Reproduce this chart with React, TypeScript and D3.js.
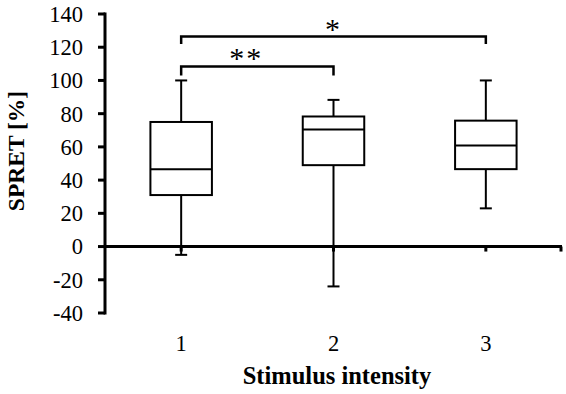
import React from "react";
import * as d3 from "d3";

const categories = ["1", "2", "3"];
const whiskerLow = [-5, -24, 23];
const q1 = [31, 49, 46.6];
const median = [46.6, 70.5, 60.8];
const q3 = [75, 78.3, 75.8];
const whiskerHigh = [100, 88.3, 100];
const yTicks = [-40, -20, 0, 20, 40, 60, 80, 100, 120, 140];
const brackets = [
  { from: "1", to: "2", level: 108.4, drop: 103, label: "**", shift: -11 },
  { from: "1", to: "3", level: 126.4, drop: 122, label: "*", shift: 0 },
];

const W = 566, H = 394;
const font = "'Liberation Serif', 'Times New Roman', serif";

export default function App() {
  const x = d3.scaleBand<string>().domain(categories).range([105, 562]);
  const y = d3.scaleLinear().domain([-40, 140]).range([313, 14]);
  const bw = 61.5;
  const cx = (c: string) => (x(c) as number) + x.bandwidth() / 2;

  return (
    <svg width={W} height={H} style={{ position: "absolute", left: 0, top: 0, background: "#fff" }}>
      {/* y axis */}
      <line x1={105} x2={105} y1={y(140) - 1.5} y2={y(-40) + 1.5} stroke="#000" strokeWidth={3} />
      {yTicks.map((t) => (
        <g key={t}>
          <line x1={98} x2={105} y1={y(t)} y2={y(t)} stroke="#000" strokeWidth={3} />
          <text x={83} y={y(t)} dy="0.35em" textAnchor="end" fontFamily={font} fontSize={22.5}>
            {t}
          </text>
        </g>
      ))}
      {/* x axis at 0 */}
      <line x1={105} x2={562} y1={y(0)} y2={y(0)} stroke="#000" strokeWidth={3} />
      {categories.map((c) => (
        <line key={"t" + c} x1={cx(c)} x2={cx(c)} y1={y(0)} y2={y(0) + 5} stroke="#000" strokeWidth={3} />
      ))}
      <line x1={561} x2={561} y1={y(0)} y2={y(0) + 5} stroke="#000" strokeWidth={3} />
      {categories.map((c) => (
        <text key={"l" + c} x={cx(c)} y={351} textAnchor="middle" fontFamily={font} fontSize={22.5}>
          {c}
        </text>
      ))}
      {/* boxes */}
      {categories.map((c, i) => {
        const m = cx(c);
        return (
          <g key={"b" + c} stroke="#000" strokeWidth={2} fill="none">
            <line x1={m} x2={m} y1={y(q3[i])} y2={y(whiskerHigh[i])} />
            <line x1={m} x2={m} y1={y(q1[i])} y2={y(whiskerLow[i])} />
            <line x1={m - 6} x2={m + 6} y1={y(whiskerHigh[i])} y2={y(whiskerHigh[i])} />
            <line x1={m - 6} x2={m + 6} y1={y(whiskerLow[i])} y2={y(whiskerLow[i])} />
            <rect x={m - bw / 2} y={y(q3[i])} width={bw} height={y(q1[i]) - y(q3[i])} fill="#fff" />
            <line x1={m - bw / 2} x2={m + bw / 2} y1={y(median[i])} y2={y(median[i])} />
          </g>
        );
      })}
      {/* significance brackets */}
      {brackets.map((b, i) => {
        const a = cx(b.from), e = cx(b.to);
        return (
          <g key={"s" + i}>
            <path
              d={`M${a},${y(b.drop)}V${y(b.level)}H${e}V${y(b.drop)}`}
              stroke="#000"
              strokeWidth={2.5}
              fill="none"
            />
            <text
              x={(a + e) / 2 + b.shift}
              y={y(b.level) + 2}
              textAnchor="middle"
              fontFamily={font}
              fontSize={30}
              letterSpacing={2}
            >
              {b.label}
            </text>
          </g>
        );
      })}
      {/* axis titles */}
      <text
        transform={`translate(24,151) rotate(-90)`}
        textAnchor="middle"
        fontFamily={font}
        fontWeight="bold"
        fontSize={23.5}
      >
        SPRET [%]
      </text>
      <text x={337} y={384} textAnchor="middle" fontFamily={font} fontWeight="bold" fontSize={24.5}>
        Stimulus intensity
      </text>
    </svg>
  );
}
